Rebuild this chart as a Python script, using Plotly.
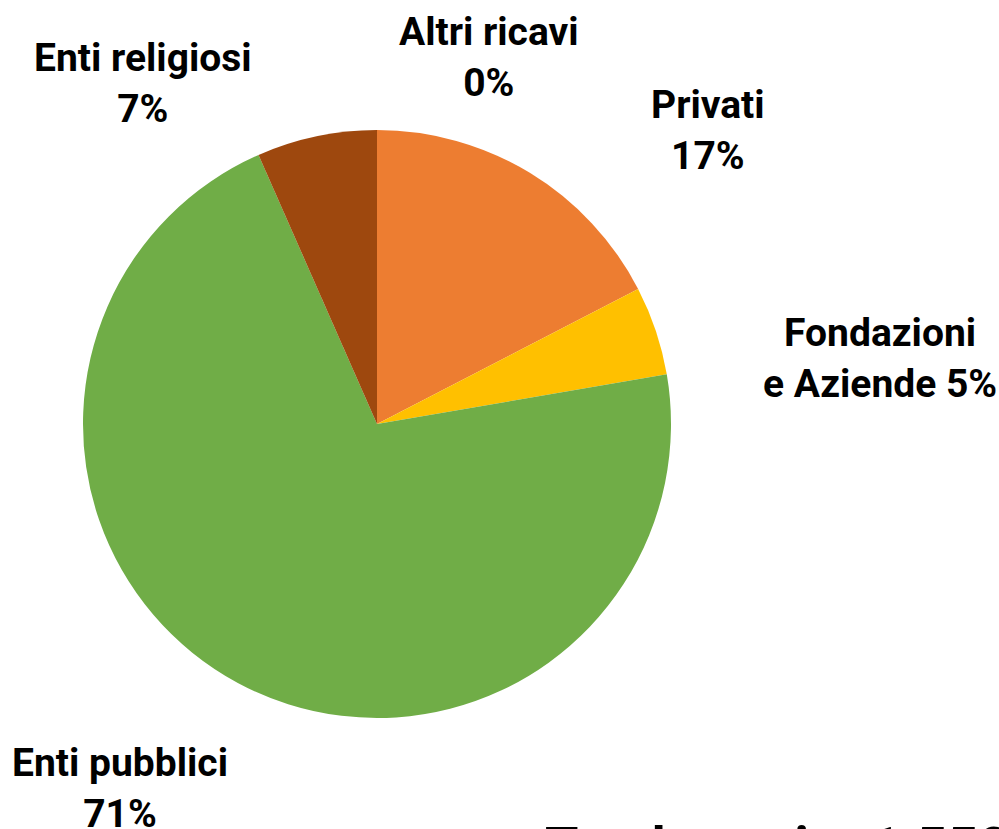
import plotly.graph_objects as go

W, H = 999, 829

# Data (clockwise from 12 o'clock)
labels = ["Altri ricavi", "Privati", "Fondazioni e Aziende", "Enti pubblici", "Enti religiosi"]
values = [0.0, 17.4, 4.9, 71.1, 6.6]
colors = ["#A5A5A5", "#ED7D31", "#FFC000", "#70AD47", "#9E480E"]
label_fmt = ["Altri ricavi<br>{p}%", "Privati<br>{p}%", "Fondazioni<br>e Aziende {p}%",
             "Enti pubblici<br>{p}%", "Enti religiosi<br>{p}%"]
total_text = "Totale uscite 1.550.000 €"

# label positions in pixels (layout only)
label_px = [(489, 58), (708, 131), (880, 358), (120, 788), (143, 83)]

cx, cy, r = 377, 424, 294

fig = go.Figure(go.Pie(
    labels=labels, values=values, sort=False, direction="clockwise", rotation=0,
    marker=dict(colors=colors, line=dict(width=0)),
    textinfo="none", hoverinfo="label+percent", showlegend=False,
    domain=dict(x=[(cx - r) / W, (cx + r) / W], y=[(H - cy - r) / H, (H - cy + r) / H]),
))

total = sum(values)
font = dict(family="Roboto", size=39, color="#000000", weight=700)
for fmt, (px, py), v in zip(label_fmt, label_px, values):
    p = round(v / total * 100)
    fig.add_annotation(text=fmt.format(p=p), x=px / W, y=1 - py / H, xref="paper", yref="paper",
                       xanchor="center", yanchor="middle", showarrow=False, font=font, align="center")

fig.add_annotation(text=total_text, x=543 / W, y=1 - 812.5 / H, xref="paper", yref="paper",
                   xanchor="left", yanchor="top", showarrow=False,
                   font=dict(family="Roboto", size=54, color="#000000", weight=700))

fig.update_layout(width=W, height=H, margin=dict(l=0, r=0, t=0, b=0),
                  paper_bgcolor="white", plot_bgcolor="white")
fig.write_html("out.html", config={"displayModeBar": False},
               post_script="document.body.style.margin='0';document.body.style.overflow='hidden';")
